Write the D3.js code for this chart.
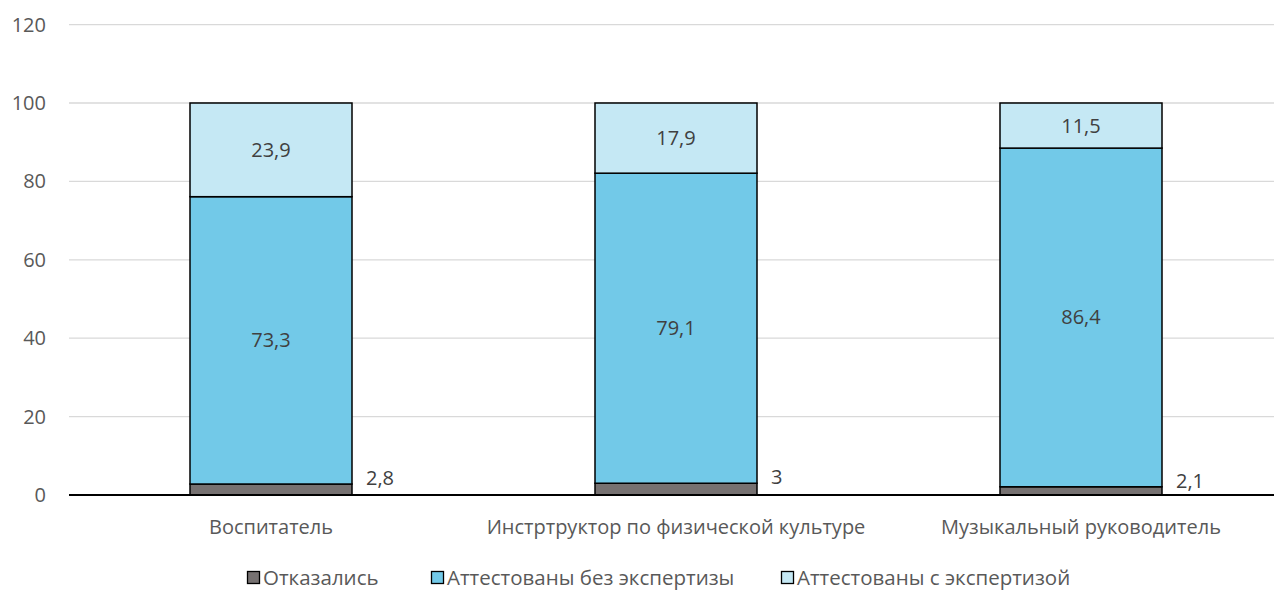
<!DOCTYPE html>
<html><head><meta charset="utf-8">
<script src="https://cdn.jsdelivr.net/npm/d3@7"></script>
<style>body{margin:0;background:#fff;} text{font-family:"Open Sans",sans-serif;}</style>
</head><body>
<svg id="c" width="1274" height="590"></svg>
<script>
const categories = ["Воспитатель", "Инстртруктор по физической культуре", "Музыкальный руководитель"];
const seriesNames = ["Отказались", "Аттестованы без экспертизы", "Аттестованы с экспертизой"];
const refused = [2.8, 3, 2.1];
const noExpertise = [73.3, 79.1, 86.4];
const withExpertise = [23.9, 17.9, 11.5];
const yTicks = [0, 20, 40, 60, 80, 100, 120];
const colors = ["#767171", "#72C9E8", "#C5E8F4"];
const seriesData = [refused, noExpertise, withExpertise];

const svg = d3.select("#c");
const W = 1274;
const x = d3.scaleBand().domain(categories).range([68.5, 1283.5]).paddingInner(0.6).paddingOuter(0.3);
const y = d3.scaleLinear().domain([0, 120]).range([495, 24.6]);

svg.append("g").selectAll("line").data(yTicks.filter(t => t > 0)).join("line")
  .attr("x1", 69).attr("x2", W).attr("y1", d => y(d)).attr("y2", d => y(d))
  .attr("stroke", "#d9d9d9").attr("stroke-width", 1.3);

svg.append("g").selectAll("text").data(yTicks).join("text")
  .attr("x", 46).attr("y", d => y(d)).attr("dy", "0.35em").attr("text-anchor", "end")
  .attr("font-size", 20).attr("fill", "#595959").text(d => d);

const table = categories.map((c, i) => ({cat: c, s0: refused[i], s1: noExpertise[i], s2: withExpertise[i]}));
const stack = d3.stack().keys(["s0", "s1", "s2"])(table);

const bw = 162;
const cx = c => x(c) + x.bandwidth() / 2;
stack.forEach((layer, li) => {
  svg.append("g").selectAll("rect").data(layer).join("rect")
    .attr("x", d => cx(d.data.cat) - bw / 2)
    .attr("width", bw)
    .attr("y", d => y(d[1]))
    .attr("height", d => y(d[0]) - y(d[1]))
    .attr("fill", colors[li]).attr("stroke", "#000").attr("stroke-width", 1.5);
});

const fmt = v => String(v).replace(".", ",");
[1, 2].forEach(li => {
  svg.append("g").selectAll("text").data(stack[li]).join("text")
    .attr("x", d => cx(d.data.cat))
    .attr("y", d => (y(d[0]) + y(d[1])) / 2).attr("dy", "0.35em")
    .attr("text-anchor", "middle").attr("font-size", 20).attr("fill", "#404040")
    .text((d, i) => fmt(seriesData[li][i]));
});
svg.append("g").selectAll("text").data(stack[0]).join("text")
  .attr("x", d => cx(d.data.cat) + bw / 2 + 14)
  .attr("y", d => y(d[1]) - 6).attr("dy", "0.35em")
  .attr("text-anchor", "start").attr("font-size", 20).attr("fill", "#404040")
  .text((d, i) => fmt(refused[i]));

svg.append("line").attr("x1", 69).attr("x2", W).attr("y1", y(0)).attr("y2", y(0))
  .attr("stroke", "#000").attr("stroke-width", 2);

svg.append("g").selectAll("text").data(categories).join("text")
  .attr("x", d => cx(d)).attr("y", 527).attr("dy", "0.35em")
  .attr("text-anchor", "middle").attr("font-size", 20).attr("fill", "#595959").text(d => d);

const legX = [247, 431, 781];
const lg = svg.append("g").selectAll("g").data(seriesNames).join("g")
  .attr("transform", (d, i) => `translate(${legX[i]},578)`);
lg.append("rect").attr("x", 0.5).attr("y", -6.5).attr("width", 12).attr("height", 12)
  .attr("fill", (d, i) => colors[i]).attr("stroke", "#000").attr("stroke-width", 1.3);
lg.append("text").attr("x", 16).attr("y", 0).attr("dy", "0.35em").attr("font-size", 20.5)
  .attr("fill", "#595959").text(d => d);
</script>
</body></html>
